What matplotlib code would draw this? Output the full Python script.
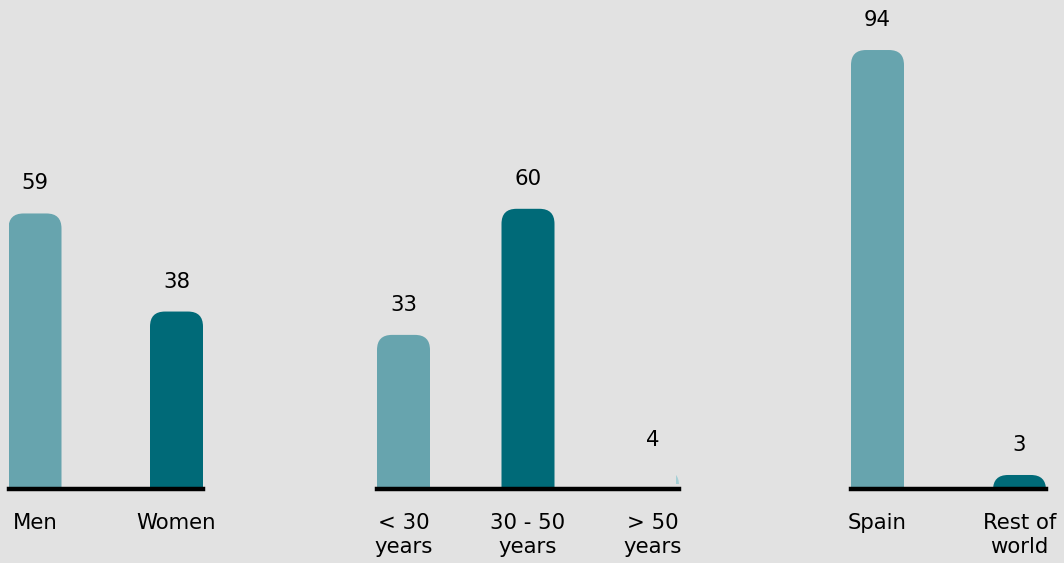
import matplotlib
matplotlib.use("Agg")
import matplotlib.pyplot as plt
from matplotlib.patches import FancyBboxPatch, Rectangle

# ---- data ----
gender_labels = ["Men", "Women"]
gender_values = [59, 38]
age_labels = ["< 30\nyears", "30 - 50\nyears", "> 50\nyears"]
age_values = [33, 60, 4]
region_labels = ["Spain", "Rest of\nworld"]
region_values = [94, 3]

LIGHT = "#67a4ae"
DARK = "#006a78"
FAINT = "#a6d0d6"
BG = "#e2e2e2"

W, H, DPI = 1064, 563, 100
fig = plt.figure(figsize=(W / DPI, H / DPI), dpi=DPI, facecolor=BG)

BASE_Y = 489          # baseline pixel row (from top)
YMAX = 100
PX_PER_UNIT = 4.67
AX_H = YMAX * PX_PER_UNIT
RADIUS_PX = 15
FS = 15.3
TXT = "#000000"


def make_axes(x0, x1, labels, values, colors, faint_last=False):
    ax = fig.add_axes([x0 / W, (H - BASE_Y) / H, (x1 - x0) / W, AX_H / H])
    ax.set_facecolor("none")
    n = len(values)
    pos = list(range(n))
    span_bars = (x1 - x0)
    wpx = 53
    unit_px = (span_bars - wpx) / (n - 1) if n > 1 else span_bars
    w = wpx / unit_px
    ax.set_xlim(-w / 2, (n - 1) + w / 2)
    ax.set_ylim(0, YMAX)
    bars = ax.bar(pos, values, width=w, color=colors)
    xppu = unit_px
    yppu = PX_PER_UNIT
    rx = RADIUS_PX / xppu
    aspect = xppu / yppu
    for i, (rect, v) in enumerate(zip(bars.patches, values)):
        rect.set_visible(False)
        bx, bw, bh = rect.get_x(), rect.get_width(), rect.get_height()
        ext = RADIUS_PX / yppu * 1.5
        patch = FancyBboxPatch((bx, -ext), bw, bh + ext,
                               boxstyle=f"round,pad=0,rounding_size={rx}",
                               mutation_aspect=aspect,
                               facecolor=rect.get_facecolor(), edgecolor="none")
        ax.add_patch(patch)
        if faint_last and i == n - 1:
            patch.set_facecolor(FAINT)
            clip = Rectangle((bx + bw - 3 / xppu, 1.1), 3 / xppu, bh - 1.5,
                             transform=ax.transData, visible=False)
            ax.add_patch(clip)
            patch.set_clip_path(clip)
        ax.annotate(f"{v}", (pos[i], bh), xytext=(0, 30), textcoords="offset pixels",
                    ha="center", va="center", fontsize=FS, color=TXT,
                    annotation_clip=False)
    ax.axhline(0, color="black", lw=3.2, clip_on=False, zorder=5)
    ax.set_xticks(pos)
    ax.set_xticklabels(labels, fontsize=FS, color=TXT, linespacing=1.3,
                       va="top")
    ax.tick_params(axis="x", length=0, pad=17)
    ax.set_yticks([])
    for s in ax.spines.values():
        s.set_visible(False)
    return ax


make_axes(8.5, 203, gender_labels, gender_values, [LIGHT, DARK])
make_axes(377, 679, age_labels, age_values, [LIGHT, DARK, LIGHT], faint_last=True)
make_axes(851, 1046, region_labels, region_values, [LIGHT, DARK])

fig.savefig("out.png", dpi=DPI, facecolor=BG)
